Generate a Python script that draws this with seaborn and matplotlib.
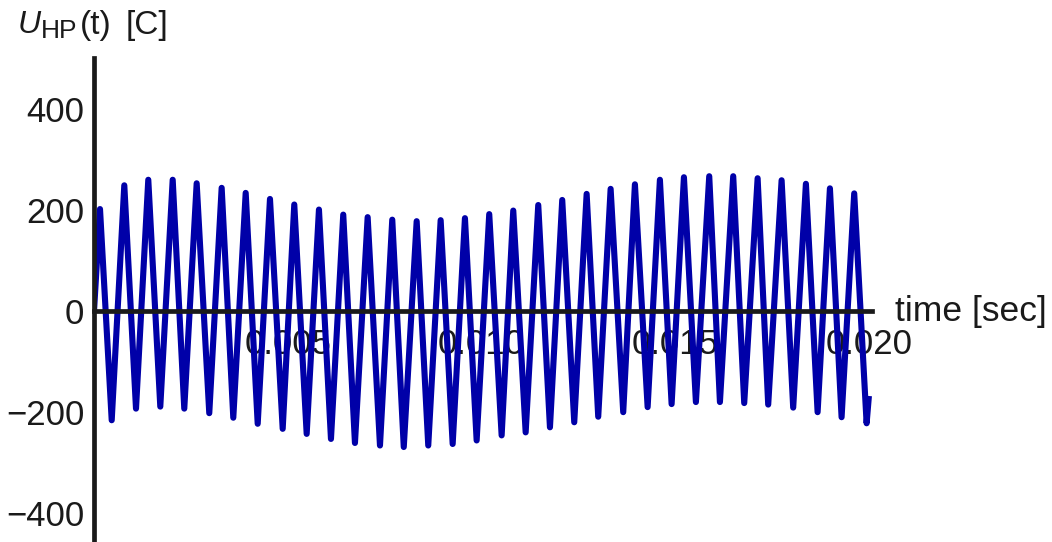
import numpy as np
import pandas as pd
import matplotlib
matplotlib.use("Agg")
import matplotlib.pyplot as plt
import seaborn as sns
from matplotlib.ticker import FixedLocator, FixedFormatter, MultipleLocator

# ---- data (time in s, U in C) ----
peak_t = [0.000155, 0.000782, 0.001401, 0.002031, 0.002650, 0.003295, 0.003915, 0.004542,
          0.005169, 0.005806, 0.006433, 0.007063, 0.007698, 0.008328, 0.008947, 0.009574,
          0.010201, 0.010821, 0.011466, 0.012085, 0.012715, 0.013334, 0.013961, 0.014606,
          0.015226, 0.015879, 0.016498, 0.017128, 0.017747, 0.018374, 0.018994, 0.019621]
peak_u = [202, 249, 260, 260, 253, 244, 234, 222, 211, 201, 191, 186, 181, 178, 180, 184,
          192, 199, 210, 220, 232, 242, 251, 260, 265, 267, 267, 263, 259, 252, 243, 233]
trough_t = [0.000457, 0.001084, 0.001711, 0.002330, 0.002975, 0.003595, 0.004225, 0.004870,
            0.005489, 0.006116, 0.006735, 0.007381, 0.007995, 0.008627, 0.009257, 0.009876,
            0.010521, 0.011141, 0.011768, 0.012395, 0.013014, 0.013659, 0.014289, 0.014908,
            0.015535, 0.016155, 0.016782, 0.017401, 0.018046, 0.018676, 0.019295, 0.019941]
trough_u = [-216, -193, -189, -193, -202, -211, -223, -233, -243, -253, -261, -266, -269, -266,
            -263, -256, -246, -240, -230, -220, -209, -200, -190, -184, -180, -180, -182, -185,
            -191, -200, -210, -222]
start_t, start_u = [0.0], [0.0]
end_t, end_u = [0.0200], [-168.0]

x_ticks = [0.005, 0.010, 0.015, 0.020]
x_tick_labels = ["0.005", "0.010", "0.015", "0.020"]
y_ticks = [-400, -200, 0, 200, 400]
y_tick_labels = ["\u2212400", "\u2212200", "0", "200", "400"]

df = pd.DataFrame({
    "t": start_t + peak_t + trough_t + end_t,
    "u": start_u + peak_u + trough_u + end_u,
}).sort_values("t").reset_index(drop=True)

# ---- style ----
sns.set_theme(style="white")
plt.rcParams["font.family"] = ["Liberation Sans", "DejaVu Sans"]
plt.rcParams["axes.unicode_minus"] = True

W, H = 1052, 542
fig = plt.figure(figsize=(W / 100, H / 100), dpi=100)
ax = fig.add_axes([94 / W, 0.0, (872 - 94) / W, (542 - 58) / H])
ax.set_facecolor("none")

line_color = "#0000a8"
axis_color = "#1a1a1a"

sns.lineplot(data=df, x="t", y="u", ax=ax, color=line_color, linewidth=4.4,
             sort=False, estimator=None, errorbar=None)
for l in ax.lines:
    l.set_solid_joinstyle("round")
    l.set_solid_capstyle("butt")

ax.set_xlim(0, 0.02008)
ax.set_ylim(-457, 501)

for s in ["top", "right"]:
    ax.spines[s].set_visible(False)
ax.spines["bottom"].set_position(("data", 0))
for s in ["left", "bottom"]:
    ax.spines[s].set_linewidth(3.4)
    ax.spines[s].set_color(axis_color)
    ax.spines[s].set_zorder(3)

ax.xaxis.set_major_locator(FixedLocator(x_ticks))
ax.xaxis.set_major_formatter(FixedFormatter(x_tick_labels))
ax.yaxis.set_major_locator(FixedLocator(y_ticks))
ax.yaxis.set_major_formatter(FixedFormatter(y_tick_labels))
ax.xaxis.set_minor_locator(MultipleLocator(0.001))
ax.yaxis.set_minor_locator(MultipleLocator(50))

ax.tick_params(axis="both", which="major", direction="in", length=3, width=1,
               color=axis_color, labelsize=25, labelcolor="#1a1a1a")
ax.tick_params(axis="both", which="minor", direction="in", length=2, width=0.8,
               color=axis_color)
ax.tick_params(axis="x", which="major", pad=12)
ax.tick_params(axis="y", which="major", pad=7)
ax.set_xlabel("")
ax.set_ylabel("")

# axis label for time, to the right of the axis end
ax.annotate("time [sec]", xy=(1.0, 0), xycoords=("axes fraction", "data"),
            xytext=(16.5, 0), textcoords="offset points", ha="left", va="center",
            fontsize=25.5, color="#1a1a1a", annotation_clip=False)

# vertical axis title: U_HP(t) [C]
def ftext(xpx, ypx, s, **kw):
    fig.text(xpx / W, 1 - ypx / H, s, va="baseline", ha="left", color="#1a1a1a", **kw)

ftext(18, 33, "U", fontsize=23, fontstyle="italic")
ftext(41, 38.5, "HP", fontsize=19)
ftext(80, 34, "(t)", fontsize=24)
ftext(126, 34, "[C]", fontsize=24)

fig.savefig("out.png", dpi=100)
